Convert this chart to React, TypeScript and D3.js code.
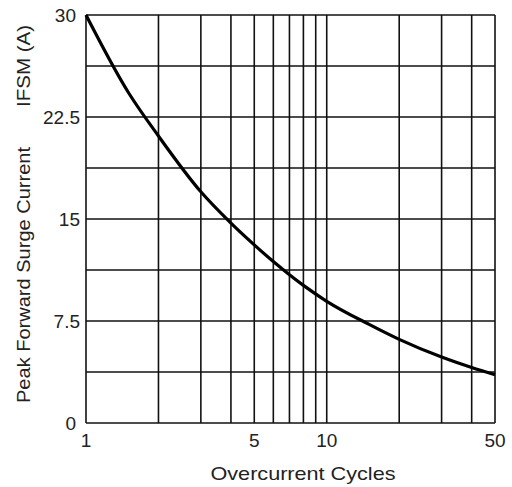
import * as d3 from "d3";

const cycles = [1, 1.5, 2, 3, 4, 5, 6, 7, 8, 10, 15, 20, 30, 40, 50];
const surgeCurrent = [30, 24.3, 21.1, 17.0, 14.7, 13.1, 11.87, 10.9, 10.12, 8.95, 7.25, 6.15, 4.85, 4.08, 3.55];
const xGrid = [1, 2, 3, 4, 5, 6, 7, 8, 9, 10, 20, 30, 40, 50];
const xTickLabels = [1, 5, 10, 50];
const yGrid = [0, 3.75, 7.5, 11.25, 15, 18.75, 22.5, 26.25, 30];
const yTickLabels = ["0", "7.5", "15", "22.5", "30"];

function App() {
  const width = 512;
  const height = 487;
  const margin = { top: 15, right: 17, bottom: 64, left: 86 };
  const innerW = width - margin.left - margin.right;
  const innerH = height - margin.top - margin.bottom;

  const x = d3.scaleLog().domain([1, 50]).range([0, innerW]);
  const y = d3.scaleLinear().domain([0, 30]).range([innerH, 0]);

  const line = d3
    .line<number>()
    .x((d, i) => x(cycles[i]))
    .y((d) => y(d))
    .curve(d3.curveMonotoneX);

  const font = "'Liberation Sans', Arial, sans-serif";
  const textColor = "#222";

  return (
    <svg
      width={width}
      height={height}
      style={{ position: "absolute", left: 0, top: 0, background: "white" }}
    >
      <g transform={`translate(${margin.left},${margin.top})`}>
        {/* grid */}
        <g stroke="#111" strokeWidth={1.6}>
          {xGrid.map((v) => (
            <line key={"x" + v} x1={x(v)} x2={x(v)} y1={0} y2={innerH} />
          ))}
          {yGrid.map((v) => (
            <line key={"y" + v} x1={0} x2={innerW} y1={y(v)} y2={y(v)} />
          ))}
        </g>

        <path d={line(surgeCurrent) ?? ""} fill="none" stroke="#000" strokeWidth={3.2} />

        {/* y tick labels */}
        <g fontFamily={font} fontSize={19} fill={textColor} textAnchor="end">
          {yTickLabels.map((t) => (
            <text key={t} x={t === "0" || t === "30" ? -10 : -6} y={y(+t)} dy="0.35em">
              {t}
            </text>
          ))}
        </g>

        {/* x tick labels */}
        <g fontFamily={font} fontSize={19} fill={textColor} textAnchor="middle">
          {xTickLabels.map((t) => (
            <text key={t} x={x(t)} y={innerH + 24}>
              {t}
            </text>
          ))}
        </g>

        <text
          x={217}
          y={innerH + 57}
          fontFamily={font}
          fontSize={19}
          fill={textColor}
          textAnchor="middle"
          textLength={185}
          lengthAdjust="spacingAndGlyphs"
        >
          Overcurrent Cycles
        </text>
      </g>

      {/* y axis title */}
      <g transform="translate(30,0) rotate(-90)" fontFamily={font} fontSize={19} fill={textColor}>
        <text x={-403} y={0} textLength={256} lengthAdjust="spacingAndGlyphs">
          Peak Forward Surge Current
        </text>
        <text x={-107} y={0} textLength={82} lengthAdjust="spacingAndGlyphs">
          IFSM (A)
        </text>
      </g>
    </svg>
  );
}

export default App;
